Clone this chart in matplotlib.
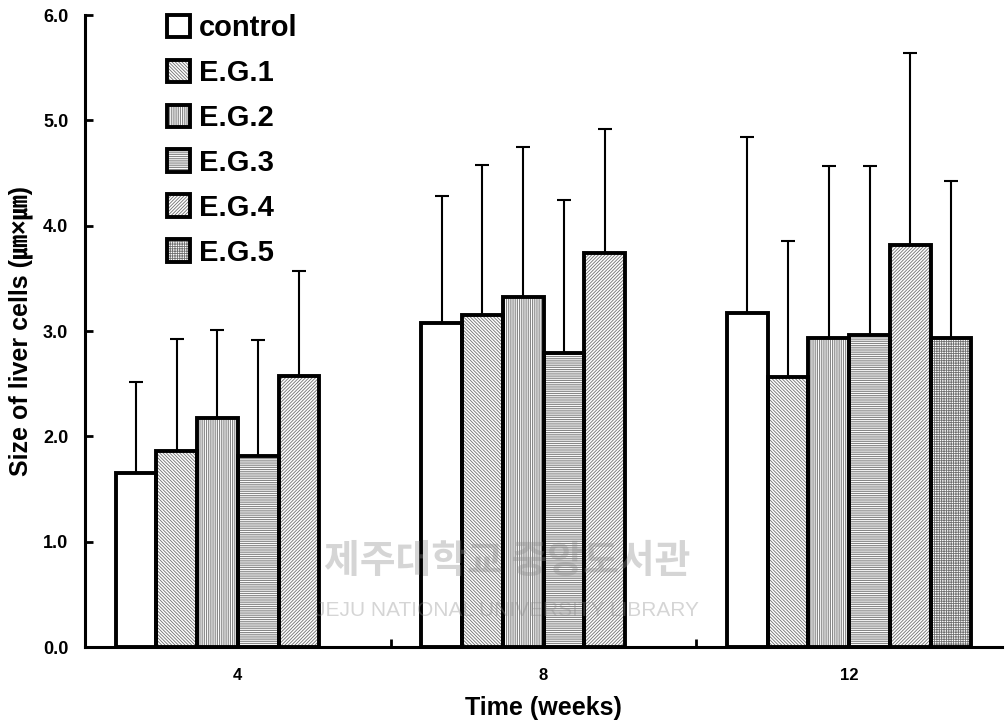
import numpy as np
import matplotlib.pyplot as plt

plt.rcParams['font.family'] = ['Liberation Sans', 'Noto Sans CJK KR', 'DejaVu Sans']
plt.rcParams['hatch.linewidth'] = 0.6

# weeks
weeks = ['4', '8', '12']
groups = ['control', 'E.G.1', 'E.G.2', 'E.G.3', 'E.G.4', 'E.G.5']

# mean values (um x um)
control = [1.65, 3.08, 3.17]
eg1 = [1.86, 3.15, 2.56]
eg2 = [2.17, 3.32, 2.93]
eg3 = [1.81, 2.79, 2.96]
eg4 = [2.57, 3.74, 3.82]
eg5 = [np.nan, np.nan, 2.93]

# standard deviations
sd_control = [0.87, 1.20, 1.67]
sd_eg1 = [1.06, 1.43, 1.29]
sd_eg2 = [0.84, 1.43, 1.64]
sd_eg3 = [1.10, 1.45, 1.61]
sd_eg4 = [1.00, 1.18, 1.82]
sd_eg5 = [np.nan, np.nan, 1.49]

means = [control, eg1, eg2, eg3, eg4, eg5]
sds = [sd_control, sd_eg1, sd_eg2, sd_eg3, sd_eg4, sd_eg5]
hatches = ['', '\\' * 10, '|' * 9, '-' * 9, '/' * 10, '+' * 7]

fig = plt.figure(figsize=(10.05, 7.21), dpi=100)
ax = fig.add_axes([85 / 1005, 74 / 721, 917 / 1005, 632 / 721])

x = np.arange(len(weeks))
w = 0.8 / 6
handles = []
for i in range(6):
    pos = x + (i - 2.5) * w
    vals = np.array(means[i])
    err = np.array(sds[i])
    ax.errorbar(pos, vals, yerr=[np.zeros_like(err), err], fmt='none',
                ecolor='black', elinewidth=1.5, capsize=5, capthick=1.5, zorder=1)
    hb = ax.bar(pos, vals, w, color='white', edgecolor='#707070', hatch=hatches[i],
                linewidth=0, zorder=2)
    ob = ax.bar(pos, vals, w, fill=False, edgecolor='black', linewidth=2.8, zorder=3)
    handles.append((hb[0], ob[0]))

ax.set_xlim(-0.5, 2.5)
ax.set_ylim(0, 6)
ax.set_yticks(np.arange(0, 6.1, 1.0))
ax.set_yticklabels([f'{v:.1f}' for v in np.arange(0, 6.1, 1.0)],
                   fontsize=13, fontweight='bold')
ax.set_xticks([0.5, 1.5])
ax.set_xticklabels([])
ax.tick_params(axis='both', direction='in', length=6, width=2)
ax.tick_params(axis='y', pad=12)
for i, lab in enumerate(weeks):
    ax.text(x[i], -0.2, lab, ha='center', va='top', fontsize=12, fontweight='bold')

for s in ['top', 'right']:
    ax.spines[s].set_visible(False)
for s in ['left', 'bottom']:
    ax.spines[s].set_linewidth(2.2)

ax.set_ylabel('Size of liver cells (㎛×㎛)', fontsize=18, fontweight='bold', labelpad=7)
ax.set_xlabel('Time (weeks)', fontsize=18, fontweight='bold', labelpad=32)

leg = ax.legend(handles, groups, loc='upper left', bbox_to_anchor=(167 / 1005, 1 - 14 / 721),
                bbox_transform=fig.transFigure, frameon=False,
                prop={'size': 21, 'weight': 'bold'},
                handlelength=0.8, handleheight=0.8, handletextpad=0.28,
                labelspacing=0.58, borderpad=0, borderaxespad=0)

# library watermark
ax.text(0.46, 0.135, '제주대학교 중앙도서관', transform=ax.transAxes, ha='center', va='center',
        fontsize=28, fontweight='bold', color='#888888', alpha=0.35, zorder=5,
        family=['Noto Sans CJK KR'])
ax.text(0.46, 0.058, 'JEJU NATIONAL UNIVERSITY LIBRARY', transform=ax.transAxes,
        ha='center', va='center', fontsize=15, color='#888888', alpha=0.35, zorder=5)

fig.savefig('out.png', dpi=100)
